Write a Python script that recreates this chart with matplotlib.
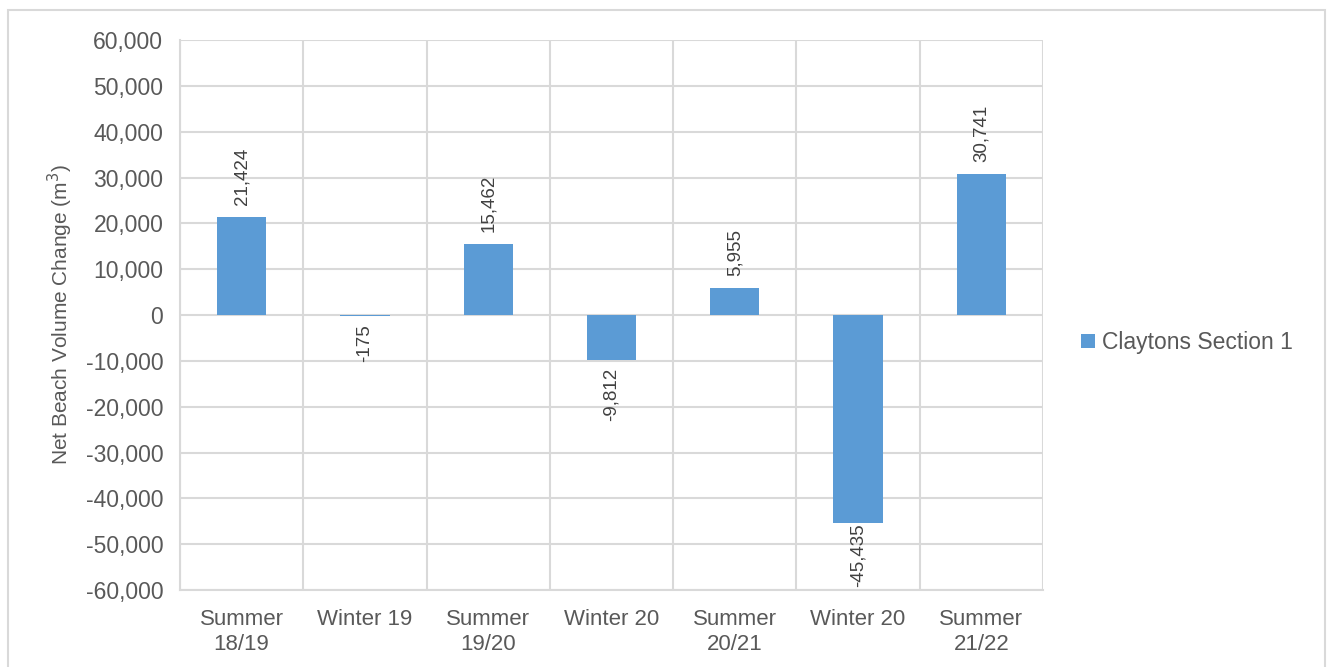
import numpy as np
import matplotlib.pyplot as plt
import matplotlib.ticker as ticker
from matplotlib.patches import Rectangle

# seasonal net beach volume change, Claytons Section 1
seasons = ['Summer\n18/19', 'Winter 19', 'Summer\n19/20', 'Winter 20',
           'Summer\n20/21', 'Winter 20', 'Summer\n21/22']
volume = [21424, -175, 15462, -9812, 5955, -45435, 30741]
series_name = 'Claytons Section 1'

bar_col = '#5B9BD5'
grid_col = '#D9D9D9'
text_col = '#595959'

plt.rcParams['font.family'] = ['Liberation Sans', 'DejaVu Sans']

fig = plt.figure(figsize=(13.35, 6.67), dpi=100)
ax = fig.add_axes([0.1348, 0.1154, 0.6465, 0.8246])

x = np.arange(len(seasons))
bars = ax.bar(x, volume, width=0.4, color=bar_col, label=series_name, zorder=3)

ymin, ymax = -60000, 60000
ax.set_xlim(-0.5, len(seasons) - 0.5)
ax.set_ylim(ymin, ymax)
ax.yaxis.set_major_locator(ticker.MultipleLocator(10000))
ax.yaxis.set_major_formatter(ticker.FuncFormatter(lambda v, p: f'{v:,.0f}'))

ax.set_xticks(x)
ax.set_xticklabels(seasons, linespacing=1.2)
ax.set_xticks(np.arange(len(seasons) + 1) - 0.5, minor=True)

ax.grid(True, which='major', axis='y', color=grid_col, lw=1.5, zorder=0)
ax.grid(True, which='minor', axis='x', color=grid_col, lw=1.5, zorder=0)
ax.tick_params(which='both', length=0)
ax.tick_params(axis='y', labelsize=16.5, labelcolor=text_col, pad=12)
ax.tick_params(axis='x', labelsize=16, labelcolor=text_col, pad=14)
for s in ['top', 'right']:
    ax.spines[s].set_visible(False)
for s in ['left', 'bottom']:
    ax.spines[s].set_color(grid_col)
    ax.spines[s].set_linewidth(1.5)

ax.set_ylabel('Net Beach Volume Change (m$^3$)', fontsize=15, color=text_col, labelpad=8)

# rotated value labels just beyond each bar end; labels that would run
# past the bottom of the plot are pushed back up into the bar
label_len = 14500
for xi, v in zip(x, volume):
    if v >= 0:
        ax.text(xi, v + 2600, f'{v:,}', rotation=90, ha='center', va='bottom',
                fontsize=13.5, color='#404040', zorder=4)
    else:
        y0 = max(v - 1800, ymin + label_len)
        ax.text(xi, y0, f'{v:,}', rotation=90, ha='center', va='top',
                fontsize=13.5, color='#404040', zorder=4)

leg = ax.legend(loc='center left', bbox_to_anchor=(1.02, 0.45), frameon=False,
                fontsize=16.5, handlelength=0.6, handleheight=0.6, handletextpad=0.3)
for t in leg.get_texts():
    t.set_color(text_col)

# light frame round the whole chart
fig.patches.append(Rectangle((8 / 1335, -0.01), 1317 / 1335, 1 - 10 / 667 + 0.01,
                             transform=fig.transFigure, fill=False,
                             edgecolor=grid_col, lw=1.5))

fig.savefig('out.png', dpi=100)
